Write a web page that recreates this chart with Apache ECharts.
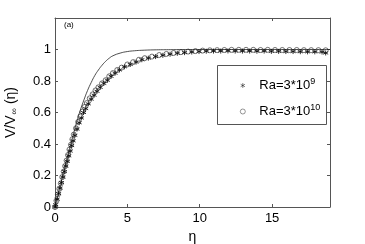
<!DOCTYPE html>
<html><head><meta charset="utf-8">
<script src="https://cdn.jsdelivr.net/npm/echarts@6/dist/echarts.min.js"></script>
<style>html,body{margin:0;padding:0;background:#fff}#c{width:365px;height:244px}</style>
</head><body><div id="c"></div>
<script>
// solid reference curve
var etaLine = [0,0.25,0.5,0.75,1,1.25,1.5,1.75,2,2.25,2.5,2.75,3,3.25,3.5,3.75,4,4.5,5,5.5,6,7,8,9,10,12,14,16,19];
var vLine   = [0,0.095,0.19,0.28,0.37,0.455,0.54,0.615,0.68,0.74,0.79,0.835,0.87,0.9,0.925,0.945,0.96,0.977,0.987,0.992,0.995,0.998,0.999,1,1,1,1,1,1];
// Ra=3*10^9 (asterisks)
var etaA = [0,0.05,0.15,0.25,0.35,0.45,0.55,0.65,0.75,0.85,0.95,1.05,1.15,1.25,1.37,1.52,1.67,1.82,1.97,2.12,2.3,2.5,2.7,2.9,3.12,3.37,3.62,3.87,4.15,4.45,4.8,5.2,5.6,6.0,6.45,6.95,7.45,7.95,8.45,8.95,9.45,9.95,10.45,10.95,11.45,11.95,12.45,12.95,13.45,13.95,14.45,14.95,15.45,15.95,16.45,16.95,17.45,17.95,18.45,18.7];
var vA   = [0,0.015,0.05,0.085,0.12,0.155,0.19,0.225,0.26,0.29,0.325,0.355,0.39,0.42,0.455,0.495,0.535,0.565,0.6,0.625,0.655,0.685,0.71,0.735,0.76,0.785,0.805,0.83,0.85,0.87,0.89,0.905,0.92,0.935,0.945,0.955,0.963,0.97,0.976,0.98,0.984,0.987,0.989,0.99,0.99,0.991,0.99,0.99,0.99,0.989,0.99,0.988,0.988,0.987,0.987,0.986,0.985,0.985,0.984,0.978];
// Ra=3*10^10 (circles)
var etaB = [0,0.1,0.2,0.3,0.4,0.5,0.6,0.7,0.8,0.9,1.0,1.1,1.2,1.3,1.45,1.6,1.75,1.9,2.05,2.2,2.4,2.6,2.8,3.0,3.25,3.5,3.75,4.0,4.3,4.6,5.0,5.4,5.8,6.2,6.7,7.2,7.7,8.2,8.7,9.2,9.7,10.2,10.7,11.2,11.7,12.2,12.7,13.2,13.7,14.2,14.7,15.2,15.7,16.2,16.7,17.2,17.7,18.2,18.7];
var vB   = [0,0.04,0.08,0.115,0.15,0.19,0.225,0.26,0.295,0.33,0.365,0.395,0.43,0.46,0.5,0.54,0.575,0.605,0.635,0.66,0.69,0.715,0.74,0.76,0.785,0.805,0.83,0.85,0.87,0.885,0.905,0.92,0.935,0.945,0.955,0.965,0.972,0.978,0.983,0.987,0.99,0.993,0.995,0.996,0.997,0.998,0.998,0.998,0.998,0.997,0.998,0.997,0.997,0.997,0.997,0.996,0.996,0.996,0.995];
var xTicks = [0,5,10,15];
var yTicks = [0,0.2,0.4,0.6,0.8,1];
var nameA = 'Ra=3*10^9', nameB = 'Ra=3*10^10';

function pairs(x,y){return x.map(function(v,i){return [v,y[i]];});}
var star = 'path://M0,-5L0,5M-4.33,-2.5L4.33,2.5M-4.33,2.5L4.33,-2.5';
var axisCol = '#555';
var font = 'Liberation Sans, Arial, sans-serif';
var chart = echarts.init(document.getElementById('c'), null, {renderer:'canvas'});
var xAx = function(pos, show){return {type:'value', position:pos, min:0, max:19, interval:5,
  axisLine:{show:true, onZero:false, lineStyle:{color:axisCol,width:1}},
  axisTick:{show:true, inside:true, length:3, lineStyle:{color:axisCol}},
  axisLabel:{show:show, color:'#000', fontSize:13, fontFamily:font, margin:5,
    formatter:function(v){return xTicks.indexOf(v)>=0? String(v):'';}},
  splitLine:{show:false},
  name: show?'η':'', nameLocation:'middle', nameGap:20,
  nameTextStyle:{color:'#000', fontSize:14, fontFamily:font}};};
var yAx = function(pos, show){return {type:'value', position:pos, min:0, max:1.2, interval:0.2,
  axisLine:{show:true, onZero:false, lineStyle:{color:axisCol,width:1}},
  axisTick:{show:true, inside:true, length:3, lineStyle:{color:axisCol}},
  axisLabel:{show:show, color:'#000', fontSize:13, fontFamily:font, margin:4,
    formatter:function(v){var r=Math.round(v*10)/10; return yTicks.indexOf(r)>=0? String(r):'';}},
  splitLine:{show:false},
  name: show?'{m|V/V}{s|∞}{m| (η)}':'', nameLocation:'middle', nameGap:36, nameRotate:90,
  nameTextStyle:{color:'#000', fontFamily:font,
    rich:{m:{fontSize:14, fontFamily:font, color:'#000'}, s:{fontSize:9, fontFamily:font, color:'#000', verticalAlign:'bottom', padding:[6,0,0,1]}}}};};
function legendFmt(n){ var p=n.split('^'); return '{t|'+p[0]+'}{u|'+p[1]+'}'; }
chart.setOption({
  animation:false,
  backgroundColor:'#fff',
  grid:{left:55, right:35, top:18, bottom:37, containLabel:false, outerBoundsMode:'none'},
  xAxis:[xAx('bottom',true), xAx('top',false)],
  yAxis:[yAx('left',true), yAx('right',false)],
  legend:{data:[nameA,nameB], orient:'vertical', left:235, top:72, itemGap:11, z:20,
    itemWidth:5, itemHeight:5, formatter:legendFmt,
    itemStyle:{borderWidth:0.6},
    textStyle:{padding:[0,0,0,9], rich:{t:{fontSize:13, fontFamily:font, color:'#000', lineHeight:15}, u:{fontSize:9, fontFamily:font, color:'#000', verticalAlign:'top', padding:[0,0,8,0]}}}},
  graphic:[
    {type:'rect', left:217, top:65, shape:{width:109, height:59}, style:{fill:'#fff', stroke:'#555', lineWidth:1}, z:5},
    {type:'text', left:64, top:21, style:{text:'(a)', fill:'#000', font:'8px '+font}, z:5}
  ],
  series:[
    {type:'line', data:pairs(etaLine,vLine), smooth:true, symbol:'none', lineStyle:{color:'#222', width:0.8}, z:2, silent:true},
    {name:nameA, type:'scatter', data:pairs(etaA,vA), symbol:star, symbolSize:5,
      itemStyle:{color:'rgba(0,0,0,0)', borderColor:'#000', borderWidth:1}, z:3},
    {name:nameB, type:'scatter', data:pairs(etaB,vB), symbol:'circle', symbolSize:5,
      itemStyle:{color:'rgba(0,0,0,0)', borderColor:'#222', borderWidth:0.8}, z:4}
  ]
});
</script></body></html>
